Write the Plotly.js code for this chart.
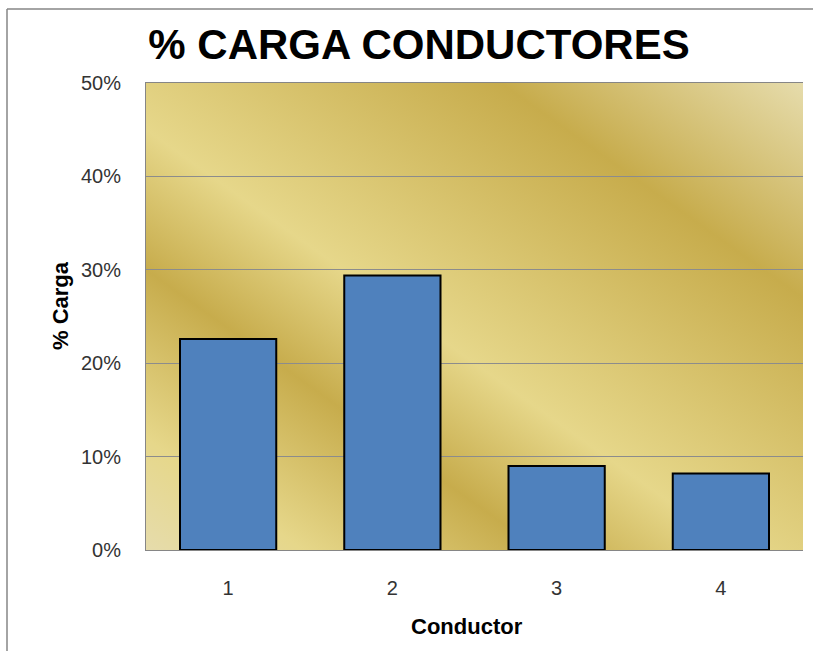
<!DOCTYPE html>
<html>
<head>
<meta charset="utf-8">
<script src="https://cdn.plot.ly/plotly-3.0.1.min.js"></script>
<style>html,body{margin:0;padding:0;background:#fff;}#chart{width:813px;height:651px;}</style>
</head>
<body>
<div id="chart"></div>
<script>
// Data
var categories = ['1', '2', '3', '4'];
var cargaValues = [0.226, 0.294, 0.090, 0.082];
var yTickValues = [0, 0.1, 0.2, 0.3, 0.4, 0.5];
var yTickLabels = ['0%', '10%', '20%', '30%', '40%', '50%'];

var gradSvg = '<svg xmlns="http://www.w3.org/2000/svg" width="100" height="100" viewBox="0 0 100 100" preserveAspectRatio="none">' +
  '<defs><linearGradient id="g" x1="0" y1="1" x2="1" y2="0">' +
  '<stop offset="0" stop-color="#E6DCAC"/>' +
  '<stop offset="0.12" stop-color="#E6D78A"/>' +
  '<stop offset="0.30" stop-color="#C7AC4C"/>' +
  '<stop offset="0.45" stop-color="#E6D78A"/>' +
  '<stop offset="0.77" stop-color="#C7AC4C"/>' +
  '<stop offset="1" stop-color="#E6DCAC"/>' +
  '</linearGradient></defs><rect x="0" y="0" width="100" height="100" fill="url(#g)"/></svg>';
var gradUri = 'data:image/svg+xml;base64,' + btoa(gradSvg);

var trace = {
  type: 'bar',
  x: categories,
  y: cargaValues,
  marker: {color: '#4F81BD', line: {color: '#000000', width: 2}},
  hoverinfo: 'none'
};

var layout = {
  width: 813,
  height: 651,
  margin: {l: 146, r: 10, t: 83, b: 101},
  paper_bgcolor: '#FFFFFF',
  plot_bgcolor: 'rgba(0,0,0,0)',
  bargap: 0.414,
  showlegend: false,
  title: {
    text: '<b>% CARGA CONDUCTORES</b>',
    font: {family: 'Liberation Sans, Arial, sans-serif', size: 42, color: '#000000'},
    xref: 'container', x: 419 / 813, xanchor: 'center',
    yref: 'container', y: 1 - 44 / 651, yanchor: 'middle'
  },
  xaxis: {
    type: 'category',
    showline: true, linecolor: '#868686', linewidth: 1,
    mirror: true,
    ticks: '', showgrid: false,
    tickfont: {family: 'Liberation Sans, Arial, sans-serif', size: 20, color: '#333333'},
    ticklabelstandoff: 20,
    fixedrange: true
  },
  yaxis: {
    range: [0, 0.5],
    tickvals: yTickValues,
    ticktext: yTickLabels,
    showline: true, linecolor: '#868686', linewidth: 1,
    showgrid: true, gridcolor: '#8C8C8C', gridwidth: 1,
    zeroline: false,
    ticks: '',
    tickfont: {family: 'Liberation Sans, Arial, sans-serif', size: 20, color: '#333333'},
    ticklabelstandoff: 20,
    fixedrange: true
  },
  images: [{
    source: gradUri,
    xref: 'paper', yref: 'paper',
    x: 0, y: 1, sizex: 1, sizey: 1,
    xanchor: 'left', yanchor: 'top',
    sizing: 'stretch', layer: 'below'
  }],
  annotations: [
    {
      text: '<b>Conductor</b>', showarrow: false,
      xref: 'paper', yref: 'paper',
      x: (467 - 146) / 657, y: (550 - 626) / 467,
      xanchor: 'center', yanchor: 'middle',
      font: {family: 'Liberation Sans, Arial, sans-serif', size: 22, color: '#000000'}
    },
    {
      text: '<b>% Carga</b>', showarrow: false, textangle: -90,
      xref: 'paper', yref: 'paper',
      x: (60 - 146) / 657, y: (550 - 306) / 467,
      xanchor: 'center', yanchor: 'middle',
      font: {family: 'Liberation Sans, Arial, sans-serif', size: 22, color: '#000000'}
    }
  ],
  shapes: [
    {type: 'line', xref: 'paper', yref: 'paper',
     x0: (7 - 146) / 657, x1: (7 - 146) / 657, y0: (550 - 9) / 467, y1: -0.3,
     line: {color: '#868686', width: 1.5}},
    {type: 'line', xref: 'paper', yref: 'paper',
     x0: (7 - 146) / 657, x1: 1.2, y0: (550 - 9) / 467, y1: (550 - 9) / 467,
     line: {color: '#868686', width: 1.5}}
  ]
};

Plotly.newPlot('chart', [trace], layout, {displayModeBar: false, staticPlot: true});
</script>
</body>
</html>
